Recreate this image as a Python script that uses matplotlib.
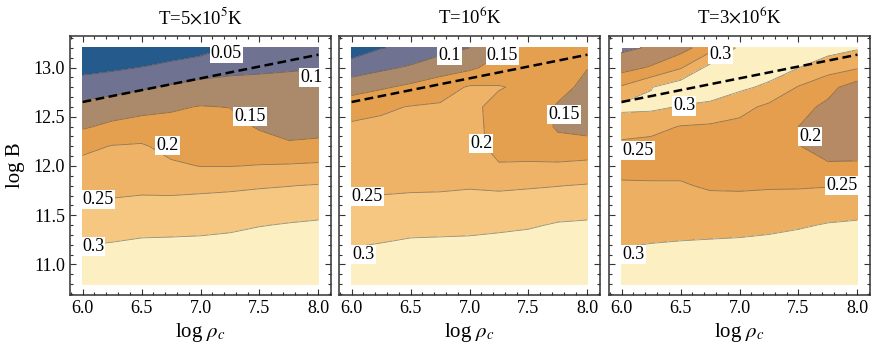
import numpy as np
import matplotlib
matplotlib.use("Agg")
import matplotlib.pyplot as plt
from matplotlib.ticker import MultipleLocator, FormatStrFormatter

plt.rcParams["font.family"] = ["Liberation Serif", "DejaVu Serif"]
plt.rcParams["mathtext.fontset"] = "stix"

# grid of the contour data
log_rho = [6.0, 6.25, 6.5, 6.75, 7.0, 7.25, 7.5, 7.75, 8.0]
log_B = [10.8, 11.0, 11.2, 11.4, 11.6, 11.8, 12.0, 12.2, 12.4, 12.6, 12.8, 13.0, 13.2]

# one list per log_rho column, from log B = 10.8 up to 13.2
z_5e5 = [
    [0.335, 0.320, 0.299, 0.276, 0.253, 0.234, 0.214, 0.188, 0.144, 0.113, 0.075, 0.034, 0.000],
    [0.345, 0.327, 0.303, 0.280, 0.257, 0.238, 0.220, 0.202, 0.161, 0.122, 0.083, 0.042, 0.005],
    [0.356, 0.332, 0.308, 0.285, 0.261, 0.240, 0.222, 0.205, 0.171, 0.133, 0.094, 0.051, 0.010],
    [0.356, 0.332, 0.309, 0.286, 0.263, 0.237, 0.207, 0.186, 0.166, 0.144, 0.106, 0.063, 0.022],
    [0.354, 0.332, 0.310, 0.288, 0.266, 0.239, 0.199, 0.184, 0.168, 0.152, 0.117, 0.075, 0.032],
    [0.353, 0.336, 0.314, 0.291, 0.268, 0.242, 0.199, 0.183, 0.167, 0.149, 0.119, 0.086, 0.053],
    [0.372, 0.348, 0.322, 0.298, 0.272, 0.246, 0.202, 0.171, 0.145, 0.128, 0.112, 0.094, 0.075],
    [0.382, 0.355, 0.329, 0.303, 0.276, 0.249, 0.205, 0.155, 0.138, 0.124, 0.111, 0.097, 0.085],
    [0.388, 0.361, 0.334, 0.307, 0.280, 0.253, 0.209, 0.158, 0.139, 0.125, 0.112, 0.099, 0.088],
]

z_1e6 = [
    [0.336, 0.317, 0.297, 0.277, 0.258, 0.243, 0.231, 0.219, 0.207, 0.180, 0.128, 0.073, 0.022],
    [0.347, 0.324, 0.302, 0.280, 0.258, 0.243, 0.232, 0.221, 0.209, 0.193, 0.144, 0.090, 0.048],
    [0.356, 0.332, 0.308, 0.285, 0.261, 0.244, 0.234, 0.223, 0.213, 0.202, 0.160, 0.106, 0.060],
    [0.356, 0.333, 0.310, 0.285, 0.261, 0.245, 0.235, 0.226, 0.216, 0.206, 0.178, 0.126, 0.083],
    [0.354, 0.332, 0.310, 0.288, 0.264, 0.247, 0.238, 0.229, 0.221, 0.212, 0.205, 0.140, 0.100],
    [0.353, 0.336, 0.314, 0.291, 0.268, 0.243, 0.206, 0.175, 0.178, 0.185, 0.203, 0.170, 0.140],
    [0.367, 0.343, 0.319, 0.295, 0.271, 0.246, 0.206, 0.180, 0.170, 0.175, 0.190, 0.180, 0.165],
    [0.385, 0.358, 0.331, 0.304, 0.277, 0.249, 0.210, 0.160, 0.146, 0.146, 0.162, 0.180, 0.185],
    [0.388, 0.361, 0.334, 0.307, 0.280, 0.253, 0.217, 0.161, 0.140, 0.135, 0.140, 0.151, 0.165],
]

z_3e6 = [
    [0.330, 0.313, 0.298, 0.283, 0.268, 0.254, 0.240, 0.238, 0.274, 0.310, 0.256, 0.180, 0.140],
    [0.330, 0.316, 0.301, 0.287, 0.270, 0.254, 0.238, 0.236, 0.264, 0.310, 0.298, 0.205, 0.155],
    [0.335, 0.318, 0.303, 0.288, 0.271, 0.254, 0.238, 0.232, 0.248, 0.297, 0.330, 0.245, 0.180],
    [0.340, 0.322, 0.306, 0.285, 0.265, 0.245, 0.232, 0.228, 0.244, 0.288, 0.330, 0.315, 0.230],
    [0.345, 0.326, 0.308, 0.286, 0.265, 0.244, 0.232, 0.228, 0.238, 0.265, 0.310, 0.330, 0.310],
    [0.350, 0.330, 0.311, 0.290, 0.267, 0.246, 0.232, 0.226, 0.228, 0.240, 0.290, 0.325, 0.330],
    [0.360, 0.338, 0.318, 0.295, 0.270, 0.246, 0.222, 0.201, 0.200, 0.215, 0.247, 0.301, 0.330],
    [0.375, 0.350, 0.326, 0.303, 0.276, 0.248, 0.203, 0.190, 0.185, 0.190, 0.215, 0.272, 0.320],
    [0.388, 0.361, 0.334, 0.307, 0.279, 0.2505, 0.207, 0.180, 0.170, 0.172, 0.175, 0.255, 0.305],
]

contour_levels = [0.05, 0.1, 0.15, 0.2, 0.25, 0.3]

# dashed reference line
dash_rho = [6.0, 8.0]
dash_B = [12.65, 13.13]

titles = ["T=5$\\times$10$^5$K", "T=10$^6$K", "T=3$\\times$10$^6$K"]

# contour labels: text, log_rho, log_B
labels_5e5 = [("0.05", 7.22, 13.14), ("0.1", 7.94, 12.9), ("0.15", 7.42, 12.5),
              ("0.2", 6.72, 12.21), ("0.25", 6.13, 11.66), ("0.3", 6.09, 11.18)]
labels_1e6 = [("0.1", 6.83, 13.12), ("0.15", 7.28, 13.12), ("0.15", 7.8, 12.52),
              ("0.2", 7.1, 12.23), ("0.25", 6.13, 11.69), ("0.3", 6.1, 11.1)]
labels_3e6 = [("0.3", 6.84, 13.13), ("0.3", 6.53, 12.61), ("0.25", 6.14, 12.16),
              ("0.2", 7.6, 12.3), ("0.25", 7.87, 11.8), ("0.3", 6.1, 11.1)]

# band colours (below 0.05, 0.05-0.1, ..., above 0.3)
band_colors_a = ["#245a8c", "#6f7290", "#ab8a6c", "#e5a04f", "#eeb367", "#f6c781", "#fcefc2"]
band_colors_b = ["#3c5a88", "#5e6890", "#75768f", "#b68a65", "#e49e4e", "#edb062", "#fcefc2"]

fig = plt.figure(figsize=(8.73, 3.48), dpi=100)
w = 261 / 873
h = 259 / 348
bottom = 1 - 295 / 348
lefts = [70 / 873, 339 / 873, 609 / 873]

panels = [(z_5e5, labels_5e5, band_colors_a),
          (z_1e6, labels_1e6, band_colors_a),
          (z_3e6, labels_3e6, band_colors_b)]

X, Y = np.meshgrid(log_rho, log_B)
bounds = [-1] + contour_levels + [1]

for i, (z, labs, cols) in enumerate(panels):
    ax = fig.add_axes([lefts[i], bottom, w, h])
    Z = np.array(z).T
    ax.contourf(X, Y, Z, levels=bounds, colors=cols)
    ax.contour(X, Y, Z, levels=contour_levels, colors="#4a4a4a", linewidths=0.6, alpha=0.6)
    ax.plot(dash_rho, dash_B, color="black", lw=1.8, dashes=(3.5, 1.8))
    for txt, xx, yy in labs:
        ax.text(xx, yy, txt, fontsize=13, ha="center", va="center", zorder=5,
                bbox=dict(facecolor="white", edgecolor="none", pad=0.8))

    ax.set_xlim(5.893, 8.107)
    ax.set_ylim(10.69, 13.32)
    ax.xaxis.set_major_locator(MultipleLocator(0.5))
    ax.xaxis.set_minor_locator(MultipleLocator(0.1))
    ax.yaxis.set_major_locator(MultipleLocator(0.5))
    ax.yaxis.set_minor_locator(MultipleLocator(0.1))
    ax.xaxis.set_major_formatter(FormatStrFormatter("%.1f"))
    ax.yaxis.set_major_formatter(FormatStrFormatter("%.1f"))
    ax.tick_params(which="both", direction="in", top=True, right=True, labelsize=13,
                   color="#333333", width=0.8)
    ax.tick_params(which="major", length=4.5)
    ax.tick_params(which="minor", length=2.5)
    for s in ax.spines.values():
        s.set_linewidth(1.1)
        s.set_color("#333333")
    if i > 0:
        ax.tick_params(labelleft=False)
    else:
        ax.set_ylabel("log B", fontsize=15, labelpad=6)
    ax.set_xlabel("log $\\rho_c$", fontsize=15, labelpad=3)
    ax.set_title(titles[i], fontsize=13.5, pad=9)

fig.savefig("out.png", dpi=100)
